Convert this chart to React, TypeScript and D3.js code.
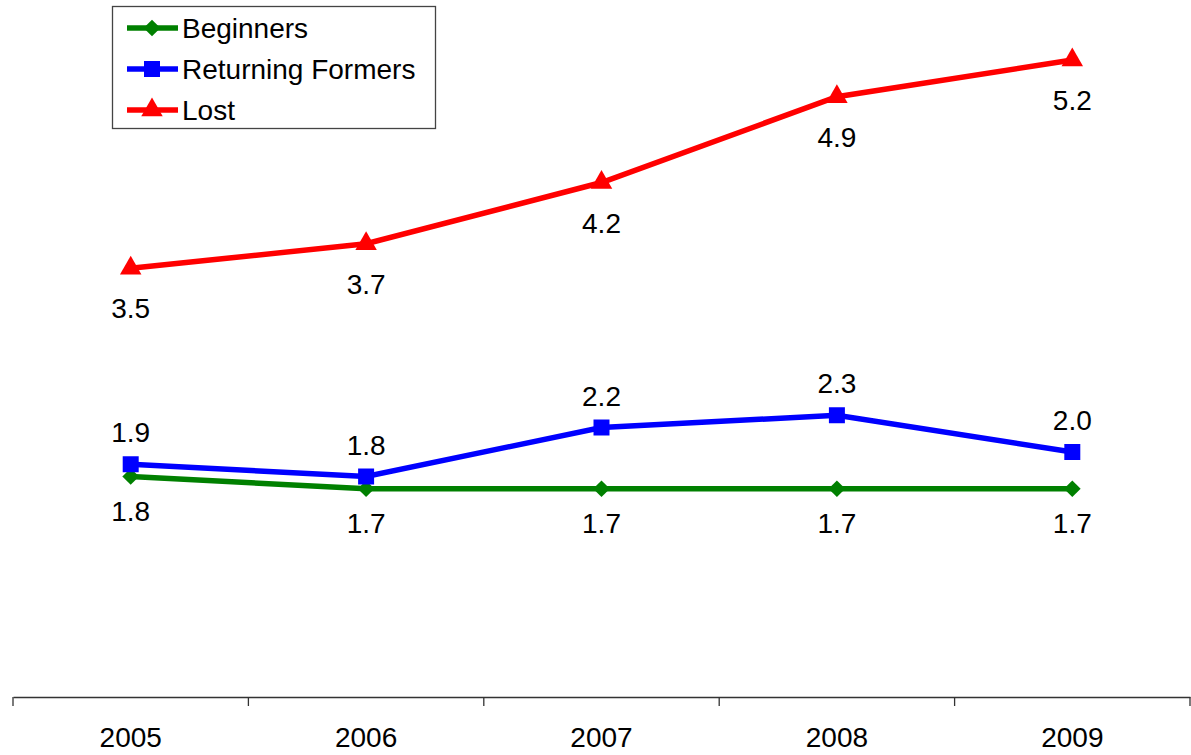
import React, { useRef, useEffect } from 'react';
import * as d3 from 'd3';

const years = ['2005', '2006', '2007', '2008', '2009'];
const beginners = [1.8, 1.7, 1.7, 1.7, 1.7];
const returningFormers = [1.9, 1.8, 2.2, 2.3, 2.0];
const lost = [3.5, 3.7, 4.2, 4.9, 5.2];

const seriesNames = ['Beginners', 'Returning Formers', 'Lost'];
const seriesColors = ['#008000', '#0000ff', '#ff0000'];

const width = 1191;
const height = 755;
const FONT = '"Liberation Sans", Arial, sans-serif';

function drawChart(svgEl: SVGSVGElement) {
  const svg = d3.select(svgEl);
  svg.selectAll('*').remove();

  svg.append('rect').attr('width', width).attr('height', height).attr('fill', '#fff');

  const x = d3.scaleBand<string>().domain(years).range([13, 1190]);
  const y = d3.scaleLinear().domain([0, 5.2]).range([697, 60]);
  const cx = (d: string) => (x(d) as number) + x.bandwidth() / 2;

  // x axis
  const xAxis = d3.axisBottom(x).tickSize(0).tickSizeOuter(0).tickPadding(30);
  const gx = svg.append('g').attr('transform', `translate(0, ${y(0)})`).call(xAxis);
  gx.select('.domain').attr('stroke', '#333').attr('stroke-width', 1.3);
  gx.selectAll('text')
    .attr('font-family', FONT)
    .attr('font-size', 28)
    .attr('fill', '#000');
  // boundary ticks between categories
  const bounds = years.map(d => x(d) as number).concat([x.range()[1]]);
  gx.selectAll('line.sep')
    .data(bounds)
    .join('line')
    .attr('class', 'sep')
    .attr('x1', d => d)
    .attr('x2', d => d)
    .attr('y1', 0)
    .attr('y2', 9)
    .attr('stroke', '#333')
    .attr('stroke-width', 1.3);

  // diamond = square turned 45 degrees
  const series = [
    { name: seriesNames[0], values: beginners, color: seriesColors[0], symbol: d3.symbolSquare, size: 140, rot: 45, labelDy: 44 },
    { name: seriesNames[1], values: returningFormers, color: seriesColors[1], symbol: d3.symbolSquare, size: 256, rot: 0, labelDy: -22 },
    { name: seriesNames[2], values: lost, color: seriesColors[2], symbol: d3.symbolTriangle, size: 200, rot: 0, labelDy: 50 },
  ];

  const line = d3.line<number>()
    .x((_, i) => cx(years[i]))
    .y(d => y(d));

  series.forEach(s => {
    const g = svg.append('g');
    g.append('path')
      .datum(s.values)
      .attr('d', line)
      .attr('fill', 'none')
      .attr('stroke', s.color)
      .attr('stroke-width', 5.5);
    g.selectAll('path.mark')
      .data(s.values)
      .join('path')
      .attr('class', 'mark')
      .attr('d', d3.symbol().type(s.symbol).size(s.size)())
      .attr('transform', (d, i) => `translate(${cx(years[i])}, ${y(d)}) rotate(${s.rot})`)
      .attr('fill', s.color);
  });

  series.forEach(s => {
    svg.append('g')
      .selectAll('text')
      .data(s.values)
      .join('text')
      .attr('x', (_, i) => cx(years[i]))
      .attr('y', d => y(d) + s.labelDy)
      .attr('text-anchor', 'middle')
      .attr('font-family', FONT)
      .attr('font-size', 28)
      .attr('fill', '#000')
      .text(d => d.toFixed(1));
  });

  // legend
  const legend = svg.append('g');
  legend.append('rect')
    .attr('x', 112.5)
    .attr('y', 6.5)
    .attr('width', 323)
    .attr('height', 122)
    .attr('fill', '#fff')
    .attr('stroke', '#444')
    .attr('stroke-width', 1.3);
  const items = legend.selectAll('g.item')
    .data(series)
    .join('g')
    .attr('class', 'item')
    .attr('transform', (_, i) => `translate(0, ${28 + i * 41})`);
  items.append('line')
    .attr('x1', 127)
    .attr('x2', 178)
    .attr('stroke', d => d.color)
    .attr('stroke-width', 5.5);
  items.append('path')
    .attr('d', d => d3.symbol().type(d.symbol).size(d.size)())
    .attr('transform', d => `translate(152, 0) rotate(${d.rot})`)
    .attr('fill', d => d.color);
  items.append('text')
    .attr('x', 182)
    .attr('y', 10)
    .attr('font-family', FONT)
    .attr('font-size', 28)
    .attr('fill', '#000')
    .text(d => d.name);
}

export default function App() {
  const ref = useRef<SVGSVGElement>(null);

  useEffect(() => {
    if (ref.current) {
      drawChart(ref.current);
    }
  }, []);

  return (
    <svg
      ref={ref}
      width={width}
      height={height}
      style={{ position: 'absolute', left: 0, top: 0, display: 'block' }}
    />
  );
}
